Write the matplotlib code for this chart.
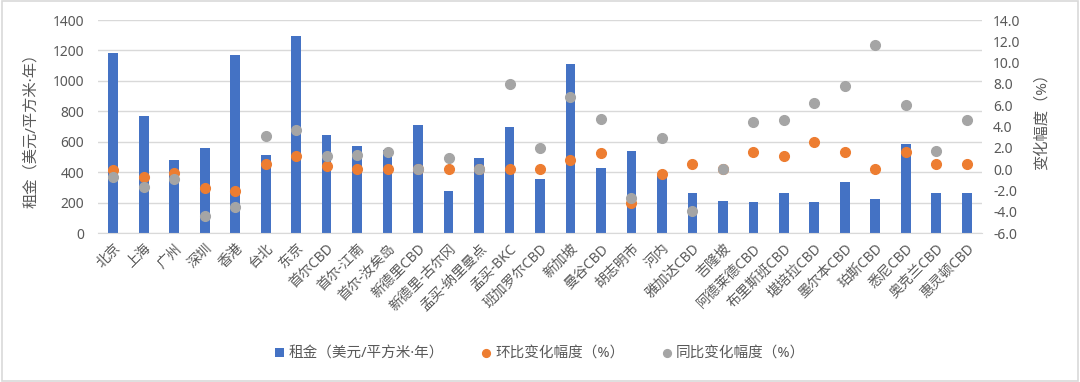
import matplotlib
matplotlib.use("Agg")
import matplotlib.pyplot as plt
from matplotlib.patches import Rectangle
from matplotlib.ticker import FormatStrFormatter

plt.rcParams["font.family"] = ["Noto Sans", "Noto Sans CJK SC"]
plt.rcParams["axes.unicode_minus"] = False

cities = ["北京", "上海", "广州", "深圳", "香港", "台北", "东京", "首尔CBD", "首尔-江南",
          "首尔-汝矣岛", "新德里CBD", "新德里-古尔冈", "孟买-纳里曼点", "孟买-BKC",
          "班加罗尔CBD", "新加坡", "曼谷CBD", "胡志明市", "河内", "雅加达CBD", "吉隆坡",
          "阿德莱德CBD", "布里斯班CBD", "堪培拉CBD", "墨尔本CBD", "珀斯CBD", "悉尼CBD",
          "奥克兰CBD", "惠灵顿CBD"]
rent = [1185, 770, 480, 560, 1170, 515, 1295, 645, 572, 545, 710, 276, 493, 700,
        355, 1110, 425, 540, 390, 265, 210, 204, 265, 204, 333, 221, 585, 265, 265]
qoq = [-0.1, -0.7, -0.4, -1.8, -2.1, 0.5, 1.2, 0.3, 0.0, 0.0, 0.0, 0.0, 0.0, 0.0,
       0.0, 0.9, 1.5, -3.2, -0.5, 0.5, 0.0, 1.6, 1.2, 2.5, 1.6, 0.0, 1.6, 0.5, 0.5]
yoy = [-0.7, -1.7, -0.9, -4.4, -3.6, 3.1, 3.7, 1.2, 1.3, 1.6, 0.0, 1.0, 0.0, 8.0,
       2.0, 6.8, 4.7, -2.7, 2.9, -3.9, 0.0, 4.4, 4.6, 6.2, 7.8, 11.7, 6.0, 1.7, 4.6]

text_c = "#595959"
grid_c = "#D9D9D9"

fig = plt.figure(figsize=(10.8, 3.82), dpi=100)
fig.patches.append(Rectangle((0.002, 0.003), 0.996, 0.994, transform=fig.transFigure,
                             fill=False, edgecolor=grid_c, linewidth=1.2))
ax = fig.add_axes([0.0907, 0.390, 0.8186, 0.5576])
x = list(range(len(cities)))

ax.bar(x, rent, width=0.32, color="#4472C4", label="租金（美元/平方米·年）", zorder=2)
ax.set_ylim(0, 1400)
ax.set_yticks(range(0, 1401, 200))
ax.set_xlim(-0.5, len(cities) - 0.5)
ax.grid(axis="y", color=grid_c, linewidth=1, zorder=0)
ax.set_axisbelow(True)
for s in ["top", "left", "right"]:
    ax.spines[s].set_visible(False)
ax.spines["bottom"].set_color(grid_c)
ax.set_xticks(x)
ax.set_xticklabels(cities, rotation=45, ha="right", rotation_mode="anchor")
ax.tick_params(axis="x", length=0, pad=6, labelsize=10, labelcolor=text_c)
ax.tick_params(axis="y", length=0, pad=10, labelsize=10, labelcolor=text_c)
ax.set_ylabel("租金（美元/平方米·年）", fontsize=11, color=text_c)
ax.yaxis.set_label_coords(-0.066, 0.5)

ax2 = ax.twinx()
ax2.plot(x, qoq, "o", color="#ED7D31", ms=7, label="环比变化幅度（%）", zorder=3)
ax2.plot(x, yoy, "o", color="#A5A5A5", ms=7, label="同比变化幅度（%）", zorder=4)
ax2.set_ylim(-6, 14)
ax2.set_yticks(range(-6, 15, 2))
ax2.yaxis.set_major_formatter(FormatStrFormatter("%.1f"))
for s in ax2.spines.values():
    s.set_visible(False)
ax2.tick_params(axis="y", length=0, pad=8, labelsize=10, labelcolor=text_c)
ax2.set_ylabel("变化幅度（%）", fontsize=11, color=text_c, rotation=90)
ax2.yaxis.set_label_coords(1.060, 0.54)

h1, l1 = ax.get_legend_handles_labels()
h2, l2 = ax2.get_legend_handles_labels()
fig.legend(h1 + h2, l1 + l2, loc="center", bbox_to_anchor=(0.5, 0.072), ncol=3,
           frameon=False, fontsize=10.5, labelcolor=text_c, handlelength=0.6,
           handleheight=0.6, handletextpad=0.3, columnspacing=2.6, markerscale=0.8)

fig.savefig("out.png", dpi=100)
